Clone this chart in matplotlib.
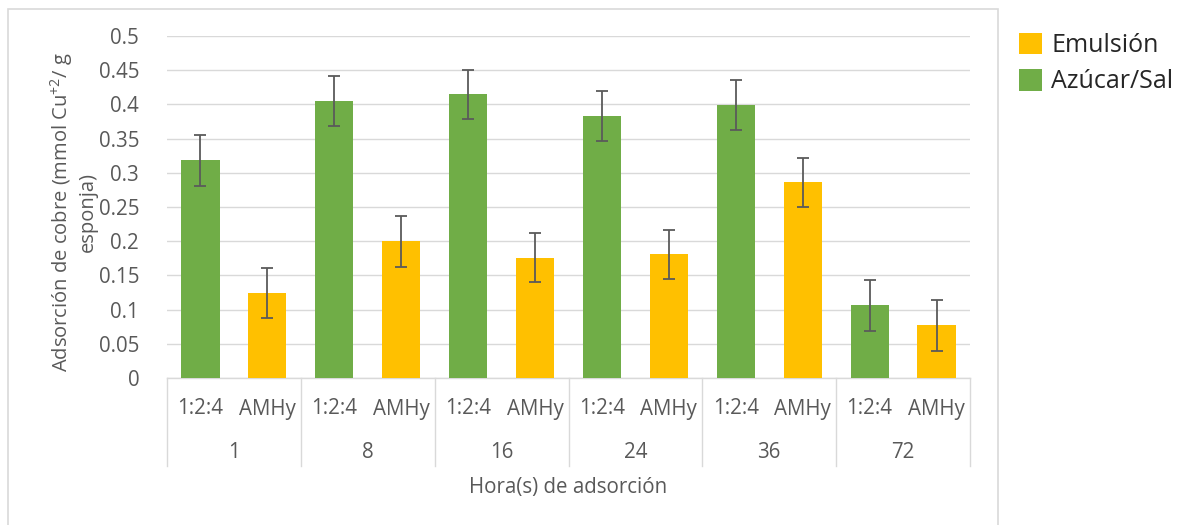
import matplotlib
matplotlib.use("Agg")
import matplotlib.pyplot as plt
from matplotlib.patches import Patch, Rectangle
import numpy as np

# ---- data ----
hours = ['1', '8', '16', '24', '36', '72']
sub_labels = ['1:2:4', 'AMHy']
azucar_sal = [0.318, 0.405, 0.415, 0.383, 0.399, 0.106]   # 1:2:4 (green)
azucar_sal_err = [0.037, 0.036, 0.036, 0.037, 0.036, 0.037]
emulsion = [0.124, 0.200, 0.176, 0.181, 0.286, 0.077]     # AMHy (yellow)
emulsion_err = [0.037, 0.037, 0.036, 0.036, 0.036, 0.037]
y_ticks = [0, 0.05, 0.1, 0.15, 0.2, 0.25, 0.3, 0.35, 0.4, 0.45, 0.5]
y_tick_labels = ['0', '0.05', '0.1', '0.15', '0.2', '0.25', '0.3', '0.35', '0.4', '0.45', '0.5']

FONT = 'Open Sans'
plt.rcParams['font.family'] = [FONT, 'DejaVu Sans']
plt.rcParams['mathtext.fontset'] = 'custom'
plt.rcParams['mathtext.rm'] = FONT
plt.rcParams['mathtext.it'] = FONT
plt.rcParams['mathtext.bf'] = FONT

GREEN = '#70AD47'
YELLOW = '#FFC000'
GRID = '#D9D9D9'
TXT = '#595959'
FS = 14.8

W, H = 1188, 525
fig = plt.figure(figsize=(W / 100, H / 100), dpi=100)
L, R, T, B = 167, 970, 36, 378
ax = fig.add_axes([L / W, 1 - B / H, (R - L) / W, (B - T) / H])

n = len(hours)
x_green = np.arange(n) * 2
x_yellow = np.arange(n) * 2 + 1
bw = 0.57
ekw = dict(ecolor='#5a5a5a', elinewidth=1.3, capsize=4.5, capthick=1.3)
ax.bar(x_green, azucar_sal, width=bw, color=GREEN, yerr=azucar_sal_err,
       error_kw=ekw, zorder=3)
ax.bar(x_yellow, emulsion, width=bw, color=YELLOW, yerr=emulsion_err,
       error_kw=ekw, zorder=3)

ax.set_xlim(-0.5, 2 * n - 0.5)
ax.set_ylim(0, 0.5)
ax.set_yticks(y_ticks, y_tick_labels)
ax.tick_params(axis='y', length=0, pad=20, labelsize=FS, labelcolor=TXT)
ax.set_xticks([])
ax.grid(axis='y', color=GRID, linewidth=1, zorder=0)
for s in ['top', 'right', 'left']:
    ax.spines[s].set_visible(False)
ax.spines['bottom'].set_color(GRID)
ax.spines['bottom'].set_linewidth(1)

# category table below axis
ph = B - T
def yfrac(px):
    return (B - px) / ph

trans = ax.get_xaxis_transform()
for k in range(n + 1):
    xs = 2 * k - 0.5
    ax.plot([xs, xs], [0, yfrac(466)], transform=trans, color=GRID,
            linewidth=1, clip_on=False)
for i in range(n):
    ax.text(x_green[i], yfrac(409), sub_labels[0], transform=trans,
            ha='center', va='center', fontsize=FS, color=TXT)
    ax.text(x_yellow[i], yfrac(409), sub_labels[1], transform=trans,
            ha='center', va='center', fontsize=FS, color=TXT)
    ax.text(2 * i + 0.5, yfrac(452), hours[i], transform=trans,
            ha='center', va='center', fontsize=FS, color=TXT)
ax.text(0.5, yfrac(487), 'Hora(s) de adsorción', transform=ax.transAxes,
        ha='center', va='center', fontsize=FS, color=TXT)

fig.text(73 / W, 1 - 212 / H,
         'Adsorción de cobre (mmol Cu$^{+2}$/ g\nesponja)',
         rotation=90, ha='center', va='center', multialignment='center',
         fontsize=FS - 0.3, color=TXT, linespacing=1.15)

# chart border
fig.patches.append(Rectangle((8 / W, -0.05), 990 / W, 1.05 - 9 / H,
                             transform=fig.transFigure, fill=False,
                             edgecolor=GRID, linewidth=1.2))

handles = [Patch(facecolor=YELLOW, label='Emulsión'),
           Patch(facecolor=GREEN, label='Azúcar/Sal')]
fig.legend(handles=handles, loc='upper left',
           bbox_to_anchor=(996 / W, 1 - 10 / H), frameon=False,
           fontsize=18, handlelength=0.95, handleheight=0.95,
           handletextpad=0.35, labelspacing=0.45, labelcolor='#262626')

fig.savefig('out.png', dpi=100)
